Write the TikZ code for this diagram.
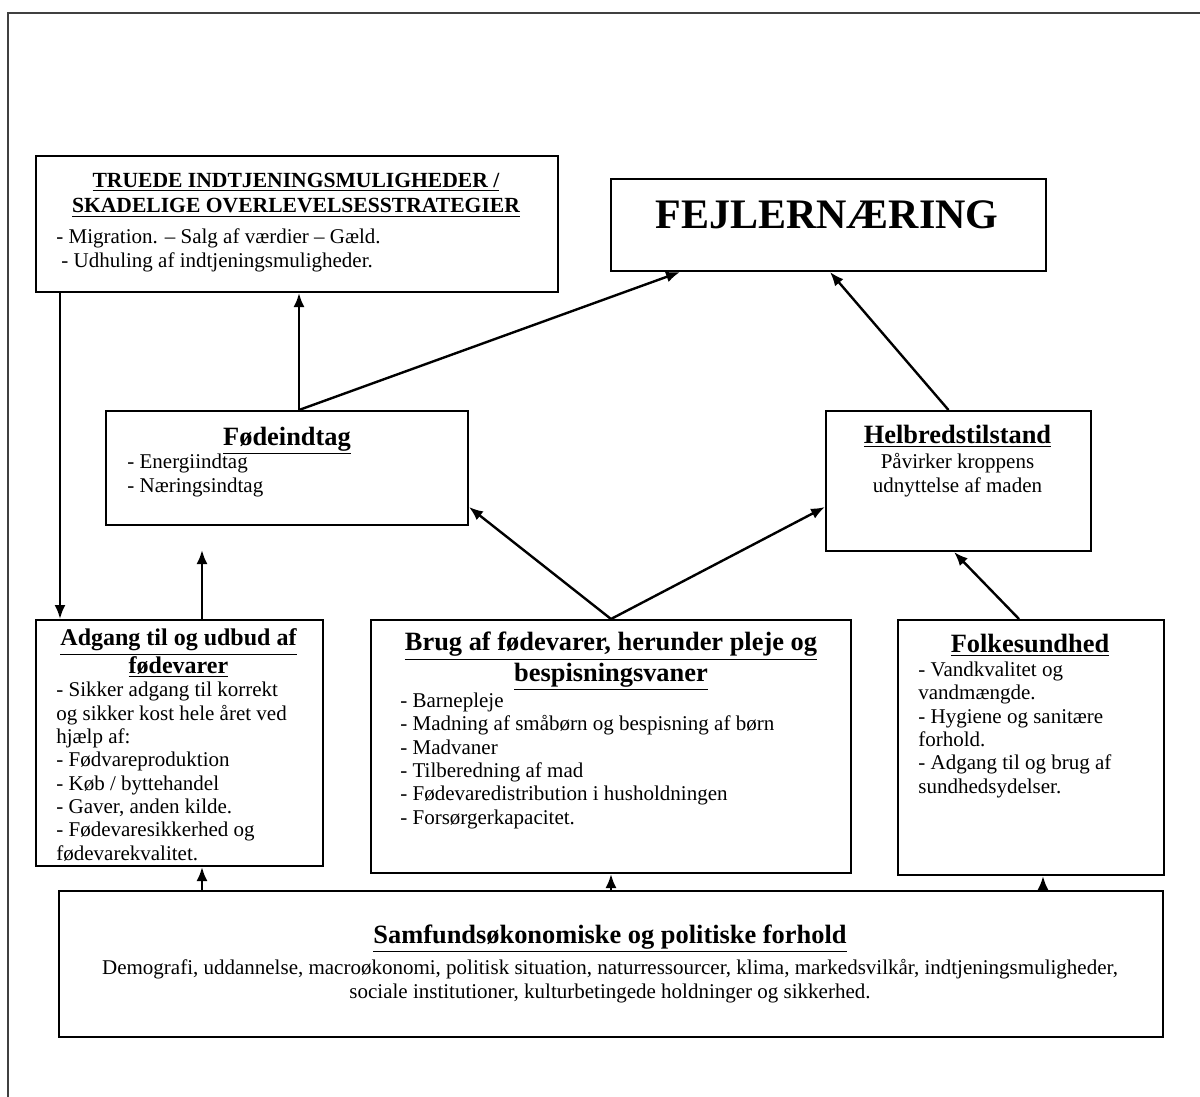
\documentclass[tikz,border=0pt]{standalone}
\usepackage{fontspec}
\setmainfont{Liberation Serif}
\usetikzlibrary{positioning, calc, arrows.meta}
\newcommand{\headfont}{\fontsize{13.2}{13.5}\selectfont\bfseries}
\newcommand{\bodyfont}{\fontsize{10.5}{11.65}\selectfont}
\tikzstyle{box} = [draw, line width=1pt, anchor=north west, inner sep=0pt]
\tikzstyle{head} = [font=\headfont, align=center, inner sep=0pt, anchor=base]
\tikzstyle{body} = [font=\bodyfont, align=left, inner sep=0pt, anchor=base west]
\tikzstyle{arrow} = [line width=1.2pt,->,>={Latex[length=7pt,width=5.5pt]}]

\begin{document}
\begin{tikzpicture}[x=0.5pt, y=-0.5pt]
        \useasboundingbox (0,0) rectangle (1200,1097);
        % frame
        \draw[line width=1pt, black!75] (8,1097) -- (8,13) -- (1200,13);

        % Boxes
        \node[box, minimum width=261pt, minimum height=68pt] (truede) at (35,155) {};
        \node[box, minimum width=217.5pt, minimum height=46pt] (fejl) at (610,178) {};
        \node[box, minimum width=181pt, minimum height=57pt] (fode) at (105,410) {};
        \node[box, minimum width=132.5pt, minimum height=70pt] (helb) at (825,410) {};
        \node[box, minimum width=143.5pt, minimum height=123pt] (adgang) at (35,619) {};
        \node[box, minimum width=240pt, minimum height=126.5pt] (brug) at (370,619) {};
        \node[box, minimum width=133pt, minimum height=127.5pt] (folk) at (897,619) {};
        \node[box, minimum width=552pt, minimum height=73pt] (samf) at (58,890) {};

        % Texts (base = baseline of the last line)
        \node[head, font=\fontsize{10.8}{13}\selectfont\bfseries] (truede-head) at (296,213)
        {\underline{TRUEDE INDTJENINGSMULIGHEDER /}\\\underline{SKADELIGE OVERLEVELSESSTRATEGIER}};
        \node[body] (truede-body) at (56,267)
        {- Migration. -- Salg af værdier -- Gæld.\\\hspace{2.5pt}- Udhuling af indtjeningsmuligheder.};

        \node[anchor=base, inner sep=0pt, font=\fontsize{21}{25}\selectfont\bfseries] (fejl-txt) at (827,228) {FEJLERNÆRING};

        \node[head] (fode-head) at (287,445) {\underline{Fødeindtag}};
        \node[body] (fode-body) at (127,492) {- Energiindtag\\- Næringsindtag};

        \node[head] (helb-head) at (957.5,443) {\underline{Helbredstilstand}};
        \node[body, align=center, anchor=base] (helb-body) at (957.5,492) {Påvirker kroppens\\udnyttelse af maden};

        \node[head, font=\fontsize{12}{13}\selectfont\bfseries] (adgang-head) at (178.5,673)
        {\underline{Adgang til og udbud af}\\[-0.5pt]\underline{fødevarer}};
        \node[body] (adgang-body) at (56,860)
        {- Sikker adgang til korrekt\\og sikker kost hele året ved\\hjælp af:\\- Fødvareproduktion\\- Køb / byttehandel\\- Gaver, anden kilde.\\- Fødevaresikkerhed og\\fødevarekvalitet.};

        \node[head] (brug-head) at (611,681) {\underline{Brug af fødevarer, herunder pleje og}\\\underline{bespisningsvaner}};
        \node[body] (brug-body) at (400,824)
        {- Barnepleje\\- Madning af småbørn og bespisning af børn\\- Madvaner\\- Tilberedning af mad\\- Fødevaredistribution i husholdningen\\- Forsørgerkapacitet.};

        \node[head] (folk-head) at (1030,652) {\underline{Folkesundhed}};
        \node[body] (folk-body) at (918,793)
        {- Vandkvalitet og\\vandmængde.\\- Hygiene og sanitære\\forhold.\\- Adgang til og brug af\\sundhedsydelser.};

        \node[head] (samf-head) at (610,943) {\underline{Samfundsøkonomiske og politiske forhold}};
        \node[body, align=center, anchor=base] (samf-body) at (610,998)
        {Demografi, uddannelse, macroøkonomi, politisk situation, naturressourcer, klima, markedsvilkår, indtjeningsmuligheder,\\sociale institutioner, kulturbetingede holdninger og sikkerhed.};

        % Arrows
        \coordinate (fodetop) at ($(fode.north)+(12,0)$);
        \coordinate (fodegap) at ($(adgang.north west)+(167,-69)$);
        \coordinate (folkx) at ($(folk.south)+(12,0)$);
        \draw[arrow] ($(truede.south west)+(25,0)$) -- ($(adgang.north west)+(25,0)$);
        \draw[arrow] (fodetop) -- (fodetop |- truede.south);
        \draw[arrow] (fodetop) -- ($(fejl.south west)+(70,0)$);
        \draw[arrow] ($(helb.north)+(-10,0)$) -- ($(fejl.south west)+(220,0)$);
        \draw[arrow] (fodegap |- adgang.north) -- (fodegap);
        \draw[arrow] (brug.north) -- ($(fode.south east)+(0,-19)$);
        \draw[arrow] (brug.north) -- ($(helb.south west)+(0,-45)$);
        \draw[arrow] ($(folk.north)+(-12,0)$) -- ($(helb.south)+(-4.5,0)$);
        \draw[arrow] (samf.north -| fodegap) -- (adgang.south -| fodegap);
        \draw[arrow] (samf.north -| brug.south) -- (brug.south);
        \draw[arrow] (samf.north -| folkx) -- (folkx);
\end{tikzpicture}
\end{document}
